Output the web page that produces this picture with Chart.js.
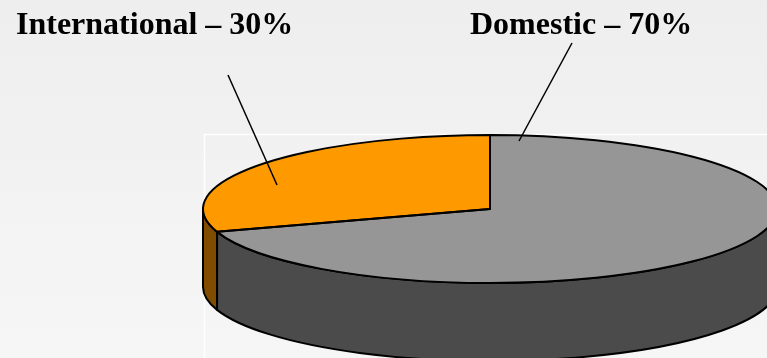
<!DOCTYPE html>
<html><head><meta charset="utf-8">
<script src="https://cdn.jsdelivr.net/npm/chart.js@4/dist/chart.umd.min.js"></script>
<style>html,body{margin:0;padding:0;background:#f2f2f2;overflow:hidden}canvas{display:block}</style>
</head><body>
<canvas id="c" width="767" height="358"></canvas>
<script>
// ---- data ----
const categories = ['Domestic', 'International'];
const shares = [70, 30];
const topColors = ['#969696', '#FF9900'];
const sideColors = ['#4B4B4B', '#7F4C00'];

// ---- layout (positions/styles) ----
const ELL = {cx: 490, cy: 209, rx: 287, ry: 74, depth: 78};
const LABEL_POS = [{x: 470, y: 34, lx1: 572, ly1: 43, lx2: 519, ly2: 141},
                   {x: 16, y: 34, lx1: 228, ly1: 75, lx2: 277, ly2: 185}];

function norm(a){const t=2*Math.PI;a%=t;if(a<0)a+=t;return a;}

function drawSide(ctx, a, b, color){
  const {cx, cy, rx, ry, depth} = ELL;
  ctx.beginPath();
  ctx.ellipse(cx, cy, rx, ry, 0, a, b, false);
  ctx.lineTo(cx + rx*Math.cos(b), cy + ry*Math.sin(b) + depth);
  ctx.ellipse(cx, cy + depth, rx, ry, 0, b, a, true);
  ctx.closePath();
  ctx.fillStyle = color;
  ctx.fill();
  ctx.lineWidth = 2;
  ctx.strokeStyle = '#000';
  ctx.lineJoin = 'round';
  ctx.stroke();
}

const pie3d = {
  id: 'pie3d',
  beforeDraw(chart){
    const ctx = chart.ctx, w = chart.width, h = chart.height;
    const g = ctx.createLinearGradient(0, 0, 0, h);
    g.addColorStop(0, '#EEEEEE');
    g.addColorStop(1, '#F6F6F6');
    ctx.save();
    ctx.fillStyle = g;
    ctx.fillRect(0, 0, w, h);
    ctx.strokeStyle = '#FFFFFF';
    ctx.lineWidth = 1.5;
    ctx.strokeRect(204.5, 134.5, 700, 300);
    ctx.restore();
  },
  beforeDatasetsDraw(chart){
    const ctx = chart.ctx;
    const meta = chart.getDatasetMeta(0);
    const {cx, cy, rx, ry} = ELL;
    ctx.save();
    // side walls (front half only)
    meta.data.forEach((arc, i) => {
      const span = arc.endAngle - arc.startAngle;
      const s = norm(arc.startAngle), e = s + span;
      for (const [lo, hi] of [[0, Math.PI], [2*Math.PI, 3*Math.PI]]) {
        const a = Math.max(s, lo), b = Math.min(e, hi);
        if (b > a) drawSide(ctx, a, b, sideColors[i]);
      }
    });
    // top faces via the library's arc elements, squashed into an ellipse
    const a0 = meta.data[0];
    const R = a0.outerRadius;
    ctx.save();
    ctx.translate(cx, cy);
    ctx.scale(rx / R, ry / R);
    ctx.translate(-a0.x, -a0.y);
    meta.data.forEach(a => a.draw(ctx));
    ctx.restore();
    // outlines
    ctx.lineWidth = 2;
    ctx.strokeStyle = '#000';
    ctx.lineJoin = 'round';
    meta.data.forEach(arc => {
      ctx.beginPath();
      ctx.moveTo(cx, cy);
      ctx.ellipse(cx, cy, rx, ry, 0, arc.startAngle, arc.endAngle, false);
      ctx.closePath();
      ctx.stroke();
    });
    ctx.restore();
    return false;
  },
  afterDraw(chart){
    const ctx = chart.ctx;
    ctx.save();
    ctx.font = 'bold 32px "Liberation Serif", "Times New Roman", serif';
    ctx.fillStyle = '#000';
    ctx.textBaseline = 'alphabetic';
    ctx.strokeStyle = '#000';
    ctx.lineWidth = 1.5;
    categories.forEach((c, i) => {
      const p = LABEL_POS[i];
      ctx.fillText(c + ' \u2013 ' + shares[i] + '%', p.x, p.y);
      ctx.beginPath();
      ctx.moveTo(p.lx1, p.ly1);
      ctx.lineTo(p.lx2, p.ly2);
      ctx.stroke();
    });
    ctx.restore();
  }
};

new Chart(document.getElementById('c'), {
  type: 'pie',
  data: {
    labels: categories,
    datasets: [{data: shares, backgroundColor: topColors, borderWidth: 0}]
  },
  options: {
    responsive: false,
    animation: false,
    devicePixelRatio: 1,
    events: [],
    plugins: {legend: {display: false}, tooltip: {enabled: false}}
  },
  plugins: [pie3d]
});
</script>
</body></html>
